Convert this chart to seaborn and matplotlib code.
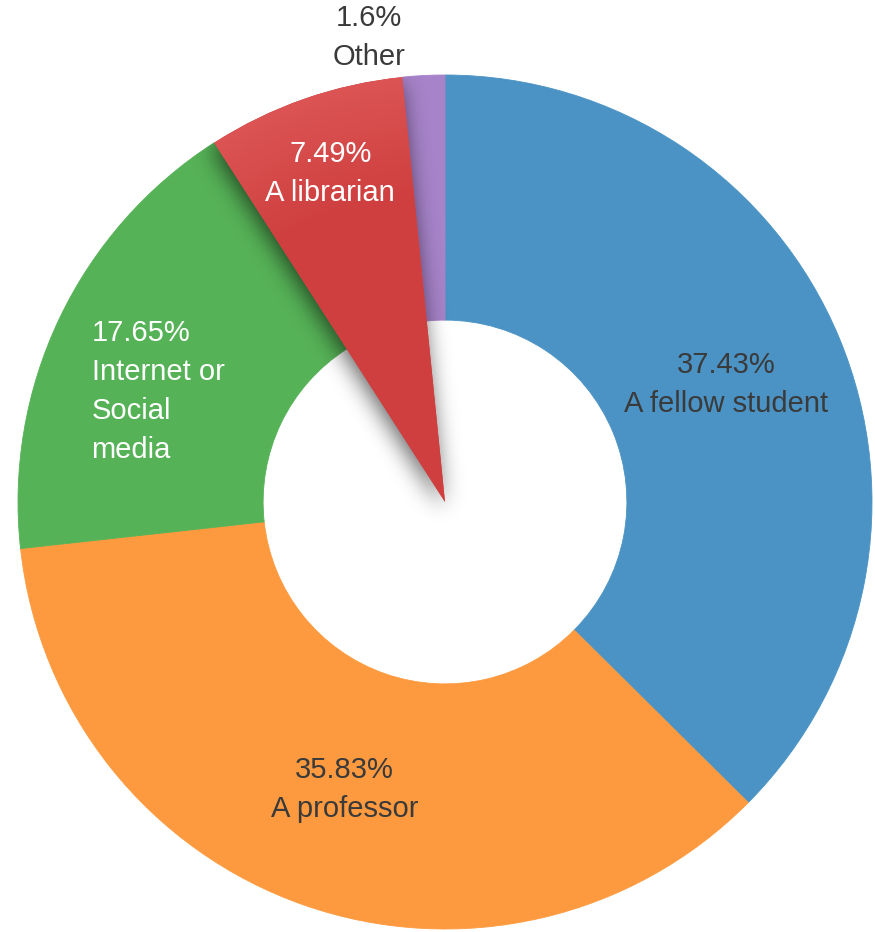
import numpy as np
import matplotlib
matplotlib.use("Agg")
import matplotlib.pyplot as plt
from matplotlib.patches import Wedge, Circle
from matplotlib.colors import to_rgb
import seaborn as sns

# ---- data ----
categories = ["A fellow student", "A professor", "Internet or\nSocial\nmedia", "A librarian", "Other"]
values = [37.43, 35.83, 17.65, 7.49, 1.6]
pct_labels = ["37.43%", "35.83%", "17.65%", "7.49%", "1.6%"]

palette = ["#4b93c4", "#fd9a3f", "#56b257", "#cf3f3f", "#a783c9"]
label_colors = ["#3a3a3a", "#3a3a3a", "white", "white", "#3a3a3a"]

sns.set_theme(style="white")
plt.rcParams["font.family"] = ["Liberation Sans", "DejaVu Sans"]

W, H = 875, 932
fig = plt.figure(figsize=(W / 100, H / 100), dpi=100)
ax = fig.add_axes([0, 0, 1, 1])
cx, cy, R = 445, 502, 427

hole = 0.426
wedges, _ = ax.pie(values, colors=sns.color_palette(palette), startangle=90,
                   counterclock=False, radius=1,
                   wedgeprops=dict(width=1 - hole, linewidth=0.6))
for wd in wedges:
    wd.set_edgecolor(wd.get_facecolor())
ax.set_xlim(-cx / R, (W - cx) / R)
ax.set_ylim(-(H - cy) / R, cy / R)
ax.set_aspect("equal")
ax.axis("off")

# selected slice: full wedge reaching the centre, soft blurred shadow
sel = 3
w = wedges[sel]
px = 1.0 / R
x0, x1, y0, y1 = -0.75, 0.25, -0.25, 1.02
xs = np.arange(x0, x1, px)
ys = np.arange(y0, y1, px)
XX, YY = np.meshgrid(xs, ys)
off = (-0.007, -0.014)
shadow_wedge = Wedge((w.center[0] + off[0], w.center[1] + off[1]), w.r, w.theta1, w.theta2)
mask = shadow_wedge.get_path().contains_points(
    np.column_stack([XX.ravel(), YY.ravel()])).reshape(XX.shape).astype(float)
sig = 11.0
k = np.arange(-int(3 * sig), int(3 * sig) + 1)
kern = np.exp(-0.5 * (k / sig) ** 2)
kern /= kern.sum()
blur = np.apply_along_axis(lambda r: np.convolve(r, kern, mode="same"), 1, mask)
blur = np.apply_along_axis(lambda c: np.convolve(c, kern, mode="same"), 0, blur)
img = np.zeros(XX.shape + (4,))
img[..., 3] = blur * 0.62
sh = ax.imshow(img, extent=(x0, x1, y0, y1), origin="lower", zorder=4,
               interpolation="bilinear")
sh.set_clip_path(Circle((0, 0), 1.0, transform=ax.transData))

# gradient fill of the selected slice (lighter toward the outer rim)
base = np.array(to_rgb(palette[sel]))
light = np.array(to_rgb("#dc5454"))
rr = np.hypot(XX, YY)
t = np.clip((rr - 0.72) / 0.28, 0, 1)[..., None]
grad = np.concatenate([base * (1 - t) + light * t, np.ones(XX.shape + (1,))], axis=2)
full = Wedge(w.center, w.r, w.theta1, w.theta2, facecolor=palette[sel],
             edgecolor="none", zorder=5)
ax.add_patch(full)
gi = ax.imshow(grad, extent=(x0, x1, y0, y1), origin="lower", zorder=5.5,
               interpolation="bilinear")
gi.set_clip_path(full)
w.set_visible(False)

radii = [0.713, 0.713, 0.72, 0.815, 1.103]
ang_off = [0, 0, 4.5, 0, 6.4]
for i, wd in enumerate(wedges):
    mid = np.deg2rad((wd.theta1 + wd.theta2) / 2 + ang_off[i])
    x = radii[i] * np.cos(mid)
    y = radii[i] * np.sin(mid)
    ax.text(x, y, pct_labels[i] + "\n" + categories[i], ha="center", va="center",
            multialignment="left" if i == 2 else "center",
            fontsize=21, color=label_colors[i], linespacing=1.5, zorder=10)

ax.set_xlim(-cx / R, (W - cx) / R)
ax.set_ylim(-(H - cy) / R, cy / R)
fig.savefig("out.png", dpi=100)
